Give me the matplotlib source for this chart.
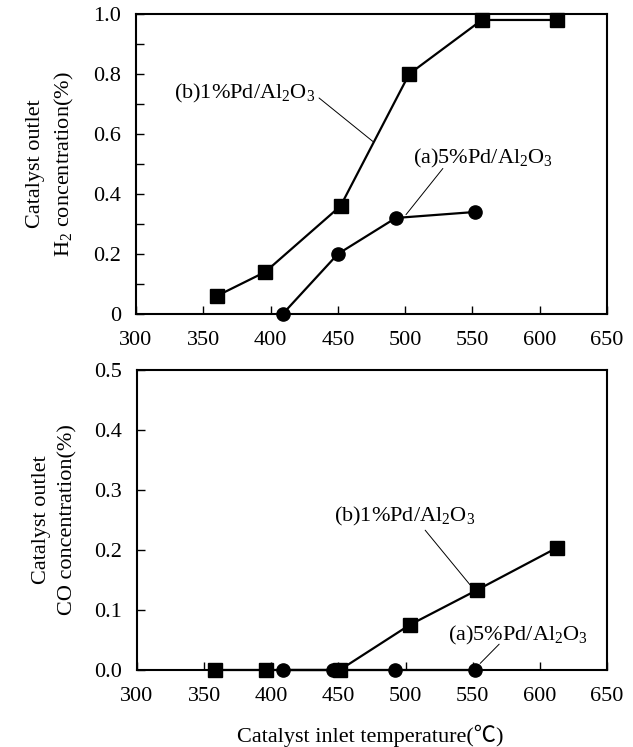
import matplotlib
matplotlib.use("Agg")
import matplotlib.pyplot as plt
from matplotlib.ticker import MultipleLocator

plt.rcParams['font.family'] = ['Liberation Serif', 'DejaVu Serif']
plt.rcParams['mathtext.fontset'] = 'custom'
plt.rcParams['mathtext.rm'] = 'Liberation Serif'
plt.rcParams['mathtext.default'] = 'regular'

# ---- data ----
h2_b_x = [360, 396, 452, 503, 557, 613]
h2_b_y = [0.06, 0.14, 0.36, 0.80, 0.98, 0.98]
h2_a_x = [409, 450, 493, 552]
h2_a_y = [0.0, 0.20, 0.32, 0.34]

co_b_x = [358, 396, 451, 503, 553, 613]
co_b_y = [0.0, 0.0, 0.0, 0.075, 0.133, 0.204]
co_a_x = [409, 446, 492, 552]
co_a_y = [0.0, 0.0, 0.0, 0.0]

x_ticks = [300, 350, 400, 450, 500, 550, 600, 650]
x_ticklabels = ['300', '350', '400', '450', '500', '550', '600', '650']
h2_ticks = [0, 0.2, 0.4, 0.6, 0.8, 1.0]
h2_ticklabels = ['0', '0.2', '0.4', '0.6', '0.8', '1.0']
co_ticks = [0.0, 0.1, 0.2, 0.3, 0.4, 0.5]
co_ticklabels = ['0.0', '0.1', '0.2', '0.3', '0.4', '0.5']

label_b = '(b)1%Pd/Al$_2$O$_3$'
label_a = '(a)5%Pd/Al$_2$O$_3$'

fs = 16
fig = plt.figure(figsize=(6.33, 7.47), dpi=100)
ax1 = fig.add_axes([0.2149, 0.5797, 0.7441, 0.4016])
ax2 = fig.add_axes([0.2164, 0.1031, 0.7425, 0.4016])

for ax in (ax1, ax2):
    for s in ax.spines.values():
        s.set_linewidth(1.5)
    ax.set_xlim(300, 650)
    ax.set_xticks(x_ticks)
    ax.set_xticklabels(x_ticklabels, fontsize=fs)
    ax.tick_params(axis='x', direction='in', length=6, width=1, labelsize=fs, pad=12)
    ax.tick_params(axis='y', direction='in', length=6, width=1, labelsize=fs, pad=11)
    ax.tick_params(which='minor', direction='in', length=6, width=1)


def leader(ax, p0, p1):
    ax.annotate('', xy=p1, xytext=p0,
                arrowprops=dict(arrowstyle='-', lw=0.7, color='black', shrinkA=0, shrinkB=0))


# top
ax1.plot(h2_b_x, h2_b_y, color='black', lw=1.6, marker='s', ms=10, clip_on=False, zorder=3)
ax1.plot(h2_a_x, h2_a_y, color='black', lw=1.6, marker='o', ms=9.5, clip_on=False, zorder=3)
ax1.set_ylim(0, 1.0)
ax1.set_yticks(h2_ticks)
ax1.set_yticklabels(h2_ticklabels, fontsize=fs)
ax1.yaxis.set_minor_locator(MultipleLocator(0.1))
ax1.set_ylabel('Catalyst outlet\nH$_2$ concentration(%)', fontsize=fs, labelpad=12, linespacing=1.5)
ax1.text(381, 0.735, label_b, fontsize=fs, ha='center', va='center')
leader(ax1, (436, 0.72), (476, 0.575))
ax1.text(558, 0.518, label_a, fontsize=fs, ha='center', va='center')
leader(ax1, (528, 0.485), (500.6, 0.331))

# bottom
ax2.plot(co_b_x, co_b_y, color='black', lw=1.6, marker='s', ms=10, clip_on=False, zorder=3)
ax2.plot(co_a_x, co_a_y, color='black', lw=1.6, marker='o', ms=9.5, clip_on=False, zorder=3)
ax2.set_ylim(0, 0.5)
ax2.set_yticks(co_ticks)
ax2.set_yticklabels(co_ticklabels, fontsize=fs)
ax2.set_ylabel('Catalyst outlet\nCO concentration(%)', fontsize=fs, labelpad=12, linespacing=1.5)
fig.text(0.5845, 0.0147, 'Catalyst inlet temperature(\u2103)', fontsize=fs,
         ha='center', va='center',
         family=['Liberation Serif', 'Noto Sans CJK JP', 'DejaVu Serif'])
ax2.text(499, 0.2555, label_b, fontsize=fs, ha='center', va='center')
leader(ax2, (514.6, 0.233), (548, 0.142))
ax2.text(584, 0.058, label_a, fontsize=fs, ha='center', va='center')
leader(ax2, (569.7, 0.043), (555.6, 0.011))

fig.savefig('out.png', dpi=100)
